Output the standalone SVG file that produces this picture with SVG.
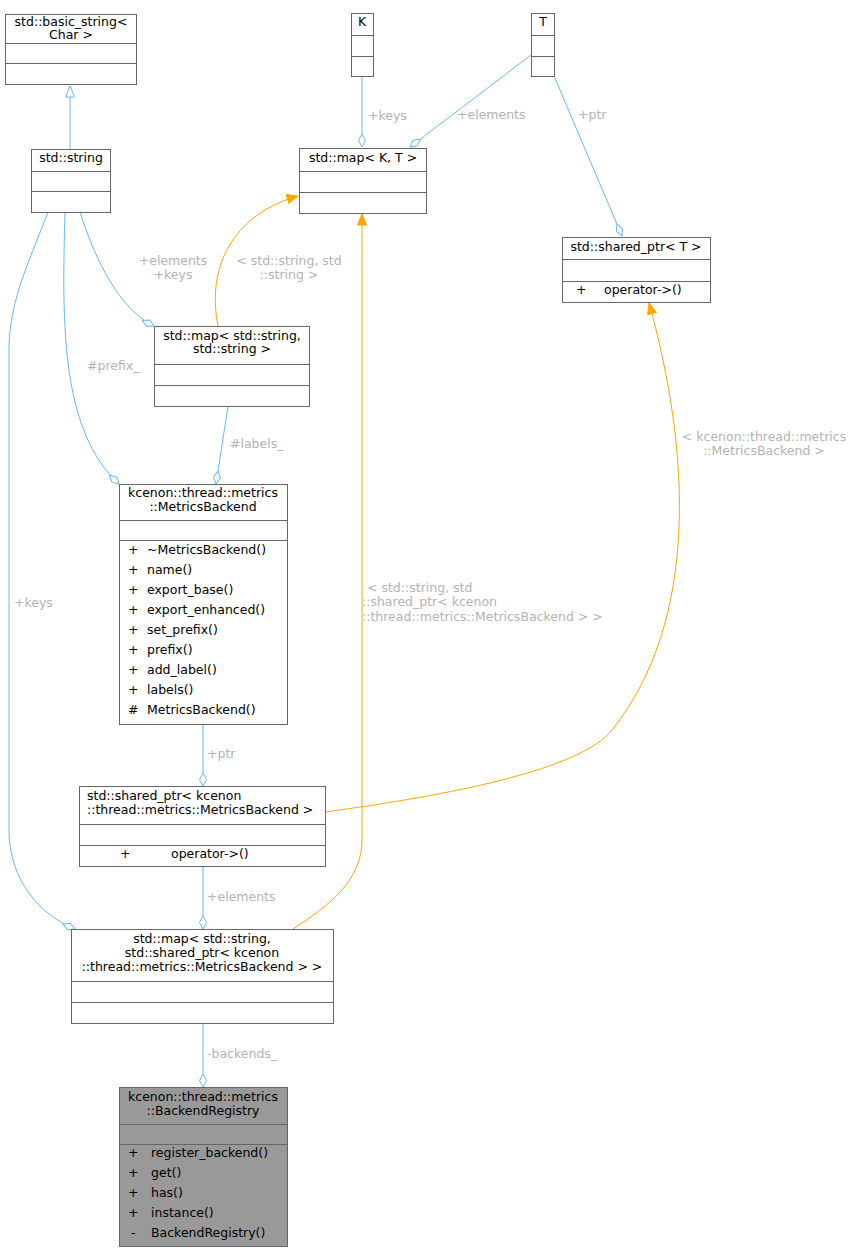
<svg xmlns="http://www.w3.org/2000/svg" width="855" height="1252" viewBox="0 0 855 1252">
<style>
.n{fill:#fff;stroke:#666;stroke-width:1}
.g{fill:#999;stroke:#666;stroke-width:1}
.s{stroke:#666;stroke-width:1}
text{font-family:"DejaVu Sans",sans-serif;font-size:12.5px;fill:#000;white-space:pre}
.c{text-anchor:middle}
.l{fill:#b3b3b3;font-size:12.5px}
.b{fill:none;stroke:#63b8ff;stroke-width:1}
.o{fill:none;stroke:#ffa500;stroke-width:1}
</style>
<defs>
<marker id="dia" viewBox="0 0 14 8" refX="13.5" refY="4" markerWidth="14" markerHeight="8" orient="auto" markerUnits="userSpaceOnUse"><path d="M0.5,4 L7,0.5 L13.5,4 L7,7.5 Z" fill="#fff" stroke="#63b8ff"/></marker>
<marker id="tri" viewBox="0 0 12 10" refX="11.5" refY="5" markerWidth="12" markerHeight="10" orient="auto" markerUnits="userSpaceOnUse"><path d="M0.5,0.5 L11.5,5 L0.5,9.5 Z" fill="#fff" stroke="#63b8ff"/></marker>
<marker id="arr" viewBox="0 0 12 10" refX="11.5" refY="5" markerWidth="12" markerHeight="10" orient="auto" markerUnits="userSpaceOnUse"><path d="M0.5,0.5 L11.5,5 L0.5,9.5 Z" fill="#ffa500" stroke="#ffa500"/></marker>
</defs>
<rect width="855" height="1252" fill="#fff"/>
<g id="edges">
<path class="b" d="M70,149 L70,86" marker-end="url(#tri)"/>
<path class="b" d="M362,76 L362,147" marker-end="url(#dia)"/>
<text class="l" x="368" y="120">+keys</text>
<path class="b" d="M531,55 L410,147" marker-end="url(#dia)"/>
<text class="l" x="457" y="119">+elements</text>
<path class="b" d="M554,76 L622,236" marker-end="url(#dia)"/>
<text class="l" x="578" y="119">+ptr</text>
<path class="o" d="M218,326 C205,260 240,212 298,196" marker-end="url(#arr)"/>
<text class="l c" x="289" y="265">&lt; std::string, std</text>
<text class="l c" x="289" y="279">::string &gt;</text>
<path class="b" d="M80,212 C95,260 120,310 154,326" marker-end="url(#dia)"/>
<text class="l c" x="173" y="265">+elements</text>
<text class="l c" x="173" y="279">+keys</text>
<path class="b" d="M65,212 C62,320 60,430 119,484" marker-end="url(#dia)"/>
<text class="l" x="87" y="370">#prefix_</text>
<path class="b" d="M228,406 L216,484" marker-end="url(#dia)"/>
<text class="l" x="230" y="448">#labels_</text>
<path class="b" d="M203,724 L203,786" marker-end="url(#dia)"/>
<text class="l" x="207" y="758">+ptr</text>
<path class="o" d="M325,812 C450,795 580,770 612,730 C700,620 690,450 649,303" marker-end="url(#arr)"/>
<text class="l c" x="764" y="441">&lt; kcenon::thread::metrics</text>
<text class="l c" x="764" y="455">::MetricsBackend &gt;</text>
<path class="b" d="M48,212 C30,260 9,300 9,350 L9,830 C9,880 40,915 75,929" marker-end="url(#dia)"/>
<text class="l" x="14" y="607">+keys</text>
<path class="b" d="M203,866 L203,929" marker-end="url(#dia)"/>
<text class="l" x="207" y="901">+elements</text>
<path class="o" d="M293,929 C330,905 362,880 362,840 L362,214" marker-end="url(#arr)"/>
<text class="l" x="367" y="592">&lt; std::string, std</text>
<text class="l" x="362" y="606">::shared_ptr&lt; kcenon</text>
<text class="l" x="362" y="621">::thread::metrics::MetricsBackend &gt; &gt;</text>
<path class="b" d="M203,1023 L203,1087" marker-end="url(#dia)"/>
<text class="l" x="207" y="1058">-backends_</text>
</g>
<g id="basic_string"><rect class="n" x="5.5" y="14.5" width="131" height="70"/><text class="c" x="71" y="26">std::basic_string&lt;</text><text class="c" x="71" y="39">Char &gt;</text><path class="s" d="M5.5,43.5H136.5M5.5,63.5H136.5"/></g>
<g id="string"><rect class="n" x="31.5" y="149.5" width="79" height="63"/><text class="c" x="71" y="162">std::string</text><path class="s" d="M31.5,171.5H110.5M31.5,191.5H110.5"/></g>
<g id="K"><rect class="n" x="351.5" y="13.5" width="22" height="63"/><text class="c" x="362" y="26">K</text><path class="s" d="M351.5,35.5H373.5M351.5,56.5H373.5"/></g>
<g id="T"><rect class="n" x="531.5" y="13.5" width="23" height="63"/><text class="c" x="543" y="26">T</text><path class="s" d="M531.5,35.5H554.5M531.5,56.5H554.5"/></g>
<g id="mapKT"><rect class="n" x="299.5" y="148.5" width="127" height="65"/><text class="c" x="363" y="162">std::map&lt; K, T &gt;</text><path class="s" d="M299.5,171.5H426.5M299.5,192.5H426.5"/></g>
<g id="sharedT"><rect class="n" x="562.5" y="237.5" width="148" height="65"/><text class="c" x="636" y="251">std::shared_ptr&lt; T &gt;</text><path class="s" d="M562.5,259.5H710.5M562.5,281.5H710.5"/><text x="576" y="294">+</text><text x="604" y="294">operator-&gt;()</text></g>
<g id="mapSS"><rect class="n" x="154.5" y="326.5" width="155" height="80"/><text class="c" x="232" y="340">std::map&lt; std::string,</text><text class="c" x="232" y="353">std::string &gt;</text><path class="s" d="M154.5,364.5H309.5M154.5,385.5H309.5"/></g>
<g id="MetricsBackend"><rect class="n" x="119.5" y="484.5" width="168" height="240"/><text class="c" x="203" y="497">kcenon::thread::metrics</text><text class="c" x="203" y="511">::MetricsBackend</text><path class="s" d="M119.5,520.5H287.5M119.5,540.5H287.5"/>
<g><text x="128" y="554">+</text><text x="128" y="574">+</text><text x="128" y="594">+</text><text x="128" y="614">+</text><text x="128" y="634">+</text><text x="128" y="654">+</text><text x="128" y="674">+</text><text x="128" y="694">+</text><text x="128" y="714">#</text></g>
<text x="147" y="554">~MetricsBackend()</text><text x="147" y="574">name()</text><text x="147" y="594">export_base()</text><text x="147" y="614">export_enhanced()</text><text x="147" y="634">set_prefix()</text><text x="147" y="654">prefix()</text><text x="147" y="674">add_label()</text><text x="147" y="694">labels()</text><text x="147" y="714">MetricsBackend()</text></g>
<g id="sharedMB"><rect class="n" x="79.5" y="786.5" width="246" height="80"/><text x="87" y="800">std::shared_ptr&lt; kcenon</text><text x="87" y="814">::thread::metrics::MetricsBackend &gt;</text><path class="s" d="M79.5,824.5H325.5M79.5,845.5H325.5"/><text x="120" y="858">+</text><text x="171" y="858">operator-&gt;()</text></g>
<g id="mapSP"><rect class="n" x="71.5" y="929.5" width="262" height="94"/><text class="c" x="202" y="943">std::map&lt; std::string,</text><text class="c" x="202" y="957">std::shared_ptr&lt; kcenon</text><text class="c" x="202" y="971">::thread::metrics::MetricsBackend &gt; &gt;</text><path class="s" d="M71.5,981.5H333.5M71.5,1002.5H333.5"/></g>
<g id="BackendRegistry"><rect class="g" x="119.5" y="1087.5" width="168" height="159"/><text class="c" x="203" y="1101">kcenon::thread::metrics</text><text class="c" x="203" y="1115">::BackendRegistry</text><path class="s" d="M119.5,1124.5H287.5M119.5,1144.5H287.5"/>
<text x="128" y="1157">+</text><text x="128" y="1177">+</text><text x="128" y="1197">+</text><text x="128" y="1217">+</text><text x="131" y="1237">-</text>
<text x="151" y="1157">register_backend()</text><text x="151" y="1177">get()</text><text x="151" y="1197">has()</text><text x="151" y="1217">instance()</text><text x="151" y="1237">BackendRegistry()</text></g>
</svg>
